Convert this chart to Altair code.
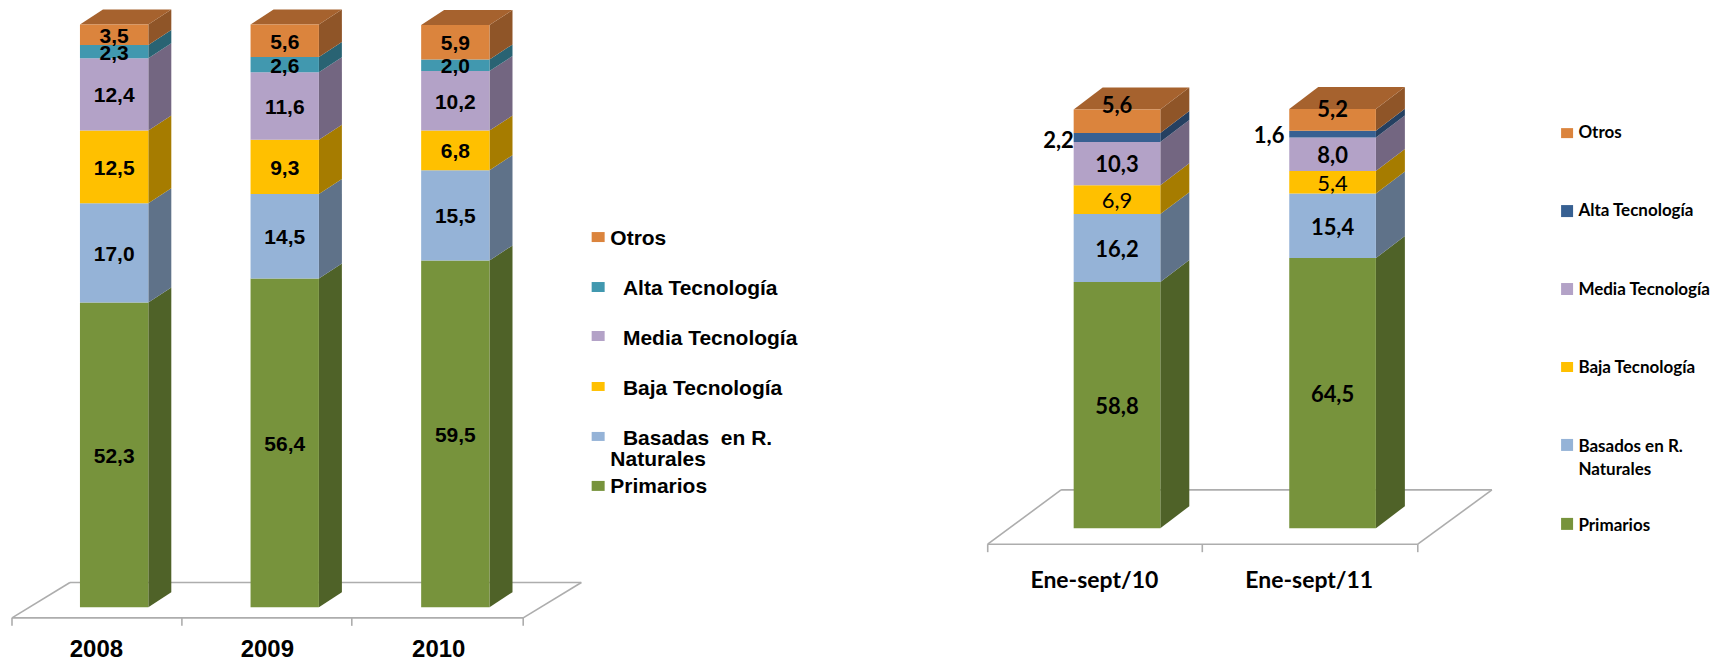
import altair as alt
import pandas as pd

# ---- data ----
SERIES = ["Primarios", "Basadas", "Baja", "Media", "Alta", "Otros"]
YEARS = ["2008", "2009", "2010"]
PRIMARIOS_A = [52.3, 56.4, 59.5]
BASADAS_A = [17.0, 14.5, 15.5]
BAJA_A = [12.5, 9.3, 6.8]
MEDIA_A = [12.4, 11.6, 10.2]
ALTA_A = [2.3, 2.6, 2.0]
OTROS_A = [3.5, 5.6, 5.9]

PERIODS = ["Ene-sept/10", "Ene-sept/11"]
PRIMARIOS_B = [58.8, 64.5]
BASADOS_B = [16.2, 15.4]
BAJA_B = [6.9, 5.4]
MEDIA_B = [10.3, 8.0]
ALTA_B = [2.2, 1.6]
OTROS_B = [5.6, 5.2]

LEGEND_A = ["Otros", "Alta Tecnología", "Media Tecnología", "Baja Tecnología", "Basadas\u00a0 en R.", "Naturales", "Primarios"]
LEGEND_B = ["Otros", "Alta Tecnología", "Media Tecnología", "Baja Tecnología", "Basados en R.", "Naturales", "Primarios"]

FRONT_A = ["#77933C", "#95B3D7", "#FFC000", "#B3A2C7", "#4198AF", "#DB843D"]
SIDE_A = ["#4F6228", "#5F7289", "#A67C00", "#736681", "#296373", "#8F5528"]
FRONT_B = ["#77933C", "#95B3D7", "#FFC000", "#B3A2C7", "#376092", "#DB843D"]
SIDE_B = ["#4F6228", "#5F7289", "#A67C00", "#736681", "#254061", "#8F5528"]
TOP_COLOR = "#A6622E"
FLOOR_COLOR = "#ADADAD"


def panel(cfg):
    x_origin, width, height = cfg["x_origin"], cfg["width"], cfg["height"]
    base, k = cfg["base"], cfg["k"]
    val = lambda py: (base - py) / k
    xs = alt.X("x:Q", axis=None, scale=alt.Scale(domain=[x_origin, x_origin + width], nice=False, zero=False))
    ys = alt.Y("y:Q", axis=None, stack=None,
               scale=alt.Scale(domain=[val(8 + height), val(8)], nice=False, zero=False))
    dx, dy = cfg["dx"], cfg["dy"] / k
    bar_w = cfg["bar_w"]

    rects, sides, tops, labels = [], [], [], []
    for i, cat in enumerate(cfg["cats"]):
        x0 = cfg["bar_x"][i]
        x1 = x0 + bar_w
        lo = 0.0
        for s, name in enumerate(SERIES):
            v = cfg["series"][s][i]
            hi = lo + v
            rects.append(dict(x=x0, x2=x1, y=lo, y2=hi, c=cfg["front"][s]))
            sid = f"{cat}-{name}"
            sides.append(dict(x=x1, y=lo, y2=hi, c=cfg["side"][s], id=sid))
            sides.append(dict(x=x1 + dx, y=lo + dy, y2=hi + dy, c=cfg["side"][s], id=sid))
            nudge_px, nudge_x = cfg["nudge"].get((i, s), (cfg["default_nudge"], 0))
            labels.append(dict(x=(x0 + x1) / 2 + nudge_x, y=(lo + hi) / 2 - nudge_px / k,
                               t=f"{v:.1f}".replace(".", ","),
                               light=(i, s) in cfg["light"]))
            lo = hi
        for x, a, b in [(x0, lo, lo), (x0 + dx, lo, lo + dy), (x1, lo, lo + dy), (x1 + dx, lo + dy, lo + dy)]:
            tops.append(dict(x=x, y=a, y2=b, id=cat))

    # floor plane and tick marks
    floor = []
    fl, fr, bl, br, fy, by = cfg["floor"]
    def seg(n, x1_, y1_, x2_, y2_):
        floor.append(dict(x=x1_, y=val(y1_), id=n))
        floor.append(dict(x=x2_, y=val(y2_), id=n))
    seg("front", fl, fy, fr, fy)
    seg("back", bl, by, br, by)
    seg("left", fl, fy, bl, by)
    seg("right", fr, fy, br, by)
    for j, tx in enumerate(cfg["ticks"]):
        seg(f"t{j}", tx, fy, tx, fy + 8)

    lab = pd.DataFrame(labels)
    layers = [
        alt.Chart(pd.DataFrame(floor)).mark_line(color=FLOOR_COLOR, strokeWidth=1.6).encode(x=xs, y=ys, detail="id:N"),
        alt.Chart(pd.DataFrame(sides)).mark_area(interpolate="linear").encode(
            x=xs, y=ys, y2="y2:Q", detail="id:N", color=alt.Color("c:N", scale=None)),
        alt.Chart(pd.DataFrame(tops)).mark_area(interpolate="linear", color=TOP_COLOR).encode(
            x=xs, y=ys, y2="y2:Q", detail="id:N"),
        alt.Chart(pd.DataFrame(rects)).mark_rect().encode(
            x=xs, x2="x2:Q", y=ys, y2="y2:Q", color=alt.Color("c:N", scale=None)),
        alt.Chart(lab[~lab.light]).mark_text(font=cfg["font"], fontWeight="bold", fontSize=cfg["label_size"],
                                             color="black", baseline="middle", align="center").encode(x=xs, y=ys, text="t:N"),
    ]
    if lab.light.any():
        layers.append(alt.Chart(lab[lab.light]).mark_text(font=cfg["font"], fontSize=cfg["label_size"],
                                                          color="black", baseline="middle", align="center").encode(x=xs, y=ys, text="t:N"))
    # category labels
    cats = pd.DataFrame(dict(x=cfg["cat_x"], y=[val(cfg["cat_y"])] * len(cfg["cats"]), t=cfg["cats"]))
    layers.append(alt.Chart(cats).mark_text(font=cfg["font"], fontWeight="bold", fontSize=cfg["cat_size"],
                                            color="black", baseline="middle", align="center").encode(x=xs, y=ys, text="t:N"))
    # legend
    sw = pd.DataFrame([dict(x=cfg["sw_x"], x2=cfg["sw_x"] + cfg["sw_w"], y=val(b), y2=val(t), c=c)
                       for (t, b), c in zip(cfg["sw_y"], cfg["front"][::-1])])
    layers.append(alt.Chart(sw).mark_rect().encode(x=xs, x2="x2:Q", y=ys, y2="y2:Q", color=alt.Color("c:N", scale=None)))
    lt = pd.DataFrame([dict(x=px, y=val(py), t=t) for t, (px, py) in zip(cfg["legend"], cfg["legend_pos"])])
    layers.append(alt.Chart(lt).mark_text(font=cfg["font"], fontWeight="bold", fontSize=cfg["legend_size"],
                                          color="black", baseline="middle", align="left").encode(x=xs, y=ys, text="t:N"))
    return alt.layer(*layers).properties(width=width, height=height)


left = panel(dict(
    x_origin=8, width=900, height=645, base=607.3, k=5.83,
    cats=YEARS, series=[PRIMARIOS_A, BASADAS_A, BAJA_A, MEDIA_A, ALTA_A, OTROS_A],
    front=FRONT_A, side=SIDE_A, font="Liberation Sans", label_size=21, cat_size=24, legend_size=21,
    bar_x=[80, 250.7, 421.4], bar_w=68.4, dx=23, dy=15,
    nudge={}, default_nudge=2, light=set(),
    floor=(12, 523.5, 70, 581.7, 618, 582.7), ticks=[12, 182, 352, 523.5],
    cat_x=[96.5, 267.5, 439], cat_y=650,
    sw_x=592, sw_w=13, sw_y=[(232, 242), (282, 292), (331, 341), (382, 391), (432, 441), (481, 491)],
    legend=LEGEND_A,
    legend_pos=[(610.7, 239), (623.3, 288.7), (623.3, 338.7), (623.3, 388.7), (623.3, 438.7), (610.7, 460), (610.7, 486.7)],
))

right = panel(dict(
    x_origin=908, width=800, height=645, base=528.3, k=4.19,
    cats=PERIODS, series=[PRIMARIOS_B, BASADOS_B, BAJA_B, MEDIA_B, ALTA_B, OTROS_B],
    front=FRONT_B, side=SIDE_B, font="Lato", label_size=22, cat_size=23, legend_size=17,
    bar_x=[1074.3, 1290], bar_w=86.7, dx=29, dy=22,
    nudge={(0, 5): (-15, 0), (1, 5): (-10, 0), (0, 4): (3.5, -58.5), (1, 4): (2, -63.5)},
    default_nudge=1.8, light={(0, 2), (1, 2)},
    floor=(988.3, 1418.6, 1061.7, 1492.8, 544.3, 490), ticks=[988.3, 1203, 1418.6],
    cat_x=[1095, 1310], cat_y=581,
    sw_x=1562, sw_w=12, sw_y=[(128, 138), (205, 217), (283, 295), (362, 372), (439, 451), (518, 530)],
    legend=LEGEND_B,
    legend_pos=[(1579.3, 133.3), (1579.3, 211), (1579.3, 290), (1579.3, 368.3), (1579.3, 446.7), (1579.3, 470), (1579.3, 525.7)],
))

chart = alt.hconcat(left, right, spacing=0).properties(padding=0).configure_view(strokeWidth=0)
chart.save("out.html", embed_options={"renderer": "svg", "actions": False})
